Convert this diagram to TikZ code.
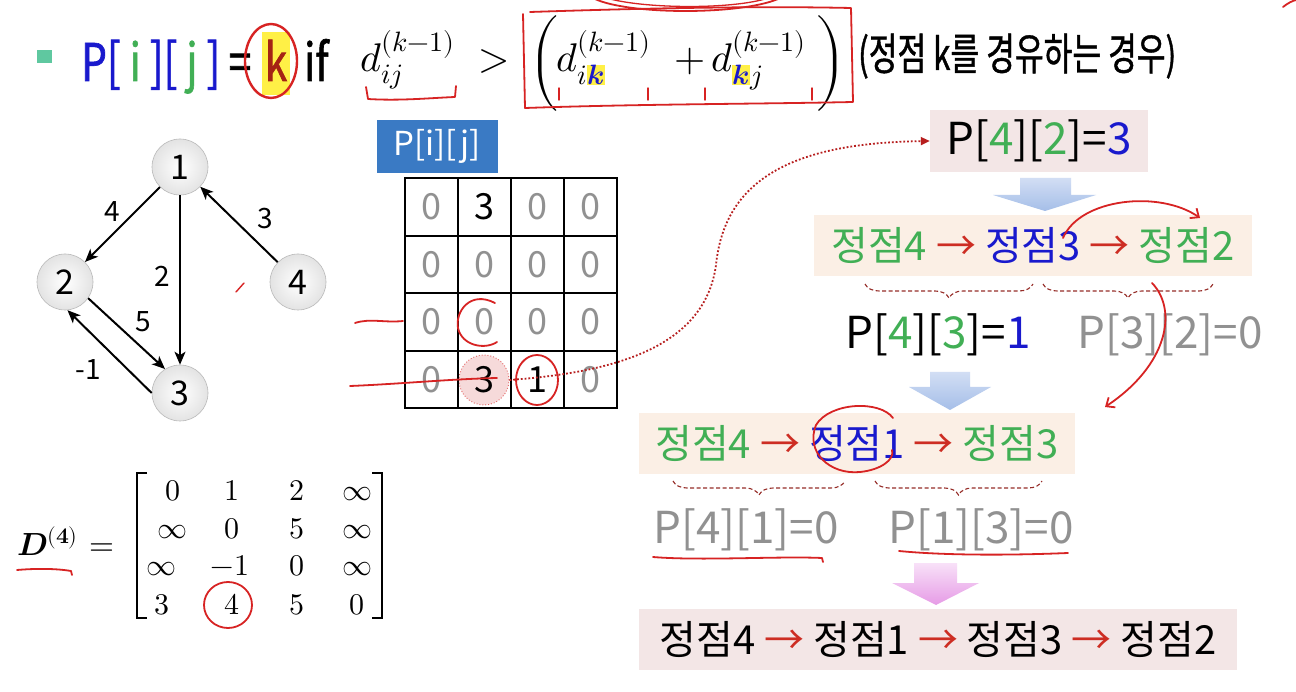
\documentclass[tikz,border=0pt]{standalone}
\usepackage{amsmath}
\usepackage{fontspec}
\usepackage{unicode-math}
\setmathfont{Latin Modern Math}
\usetikzlibrary{arrows.meta,decorations.pathreplacing,calc}
\newfontfamily\kr{Noto Sans CJK KR}
\newfontfamily\krt[FakeStretch=0.78,FakeBold=1.2]{Noto Sans CJK KR}
\newfontfamily\krn[FakeStretch=0.71,FakeBold=0.9]{Noto Sans CJK KR}
\newcommand\fsz[1]{\fontsize{#1}{#1}\selectfont}
\definecolor{kblue}{RGB}{25,25,205}
\definecolor{kgreen}{RGB}{65,175,85}
\definecolor{kgray}{RGB}{145,145,145}
\definecolor{kred}{RGB}{215,35,35}
\definecolor{arrc}{RGB}{205,45,35}
\definecolor{kdark}{RGB}{165,35,20}
\definecolor{hly}{RGB}{255,240,70}
\definecolor{boxa}{RGB}{243,230,230}
\definecolor{boxb}{RGB}{251,239,229}
\definecolor{lblue}{RGB}{58,122,196}
\definecolor{bull}{RGB}{95,200,160}
\definecolor{brc}{RGB}{150,45,40}
\definecolor{pinkc}{RGB}{246,218,218}
\definecolor{ablA}{RGB}{210,222,244}
\definecolor{ablB}{RGB}{165,190,232}
\definecolor{apkA}{RGB}{248,225,248}
\definecolor{apkB}{RGB}{230,155,230}
\newcommand\hlk{{\setlength{\fboxsep}{0.6pt}\colorbox{hly}{\color{kblue}$\scriptstyle\symbfit{k}$}}}
\begin{document}
\begin{tikzpicture}[x=1pt,y=-1pt,
  gnode/.style={circle, draw=gray!55, line width=0.6, inner color=white, outer color=gray!22, minimum size=56, inner sep=0, font=\kr\fsz{34}},
  garr/.style={-{Stealth[length=13,width=11,inset=3.5]}, line width=2},
  glab/.style={font=\kr\fsz{28}, inner sep=0},
  cell/.style={font=\kr\fsz{36}, inner sep=0, text=kgray},
  rbox/.style={inner sep=0, font=\kr\fsz{40}},
  rtxt/.style={inner sep=0, anchor=base, font=\kr\fsz{44}},
  mx/.style={inner sep=0, anchor=base, font=\fsz{30}},
  pen/.style={draw=kred, line width=1.8, line cap=round, line join=round},
  dbrace/.style={draw=brc, dash pattern=on 4pt off 2.5pt, line width=1.1, decorate, decoration={brace, mirror, amplitude=14pt}}
]
\useasboundingbox (0,0) rectangle (1296,692);
\fill[white] (0,0) rectangle (1296,692);

% ---------- title row ----------
\fill[bull] (37,50) rectangle (52,63);
\fill[hly] (262,32) rectangle (290,95);
\node[anchor=base west, inner sep=0, text=kblue, font=\krt\fsz{52}] (tP) at (81,81) {P[ {\color{kgreen}i} ][ {\color{kgreen}j} ]};
\node[anchor=base, inner sep=0, font=\krt\fsz{52}] (teq) at (240,81) {=};
\node[anchor=base, inner sep=0, text=kdark, font=\krt\fsz{52}] (tk) at (276,81) {k};
\node[anchor=base west, inner sep=0, font=\krt\fsz{52}] (tif) at (304,81) {if};
\node[anchor=base west, inner sep=0, font=\fsz{40}] (m1) at (360,72) {$d_{ij}^{(k-1)}$};
\node[anchor=base, inner sep=0, font=\fsz{40}] (m2) at (494,72) {$>$};
\node[inner sep=0, font=\fsz{40}] (m3) at (544,64) {$\bigg($};
\node[anchor=base west, inner sep=0, font=\fsz{40}] (m4) at (556,72) {$d_{i\hlk}^{(k-1)}$};
\node[anchor=base, inner sep=0, font=\fsz{40}] (m5) at (690,72) {$+$};
\node[anchor=base west, inner sep=0, font=\fsz{40}] (m6) at (711,72) {$d_{\hlk j}^{(k-1)}$};
\node[inner sep=0, font=\fsz{40}] (m7) at (831,64) {$\bigg)$};
\node[anchor=base west, inner sep=0, font=\krn\fsz{44}] (tnote) at (858,70) {(정점 k를 경유하는 경우)};

% title annotations
\draw[pen, line width=2.4] (271,61) ellipse [x radius=26, y radius=37];
\draw[pen] (366,87) -- (368,99) .. controls (400,101) and (430,98) .. (455,97) -- (456,86);
\draw[pen] (530,12) .. controls (650,8) and (760,6) .. (851,8) -- (853,102) .. controls (760,104) and (640,104) .. (525,108) -- (523,14);
\draw[pen, line width=1.4] (559,88) -- (559,100) (648,88) -- (648,100) (705,88) -- (705,100) (812,88) -- (812,100);
\draw[pen] (595,-1) .. controls (630,15) and (740,15) .. (778,-1);
\draw[pen, line width=1.3] (610,-1) .. controls (650,9) and (730,9) .. (765,-1);
\draw[pen] (1283,7) .. controls (1288,3) and (1292,1) .. (1296,0);

% ---------- graph ----------
\node[gnode] (n1) at (180,167) {1};
\node[gnode] (n2) at (65,282) {2};
\node[gnode] (n4) at (298,282) {4};
\node[gnode] (n3) at (180,393) {3};
\draw[garr] (n1) -- (n2);
\draw[garr] (n1) -- (n3);
\draw[garr] (n4) -- (n1);
\draw[garr] (n2.-35) -- (n3.122);
\draw[garr] (n3.180) -- (n2.-85);
\node[glab] (l4) at (112,212) {4};
\node[glab] (l2) at (162,276) {2};
\node[glab] (l3) at (265,219) {3};
\node[glab] (l5) at (143,322) {5};
\node[glab] (lm1) at (88,370) {-1};
\draw[pen, line width=1.4] (236,292) -- (244,283);

% ---------- P table ----------
\node[fill=lblue, text=white, minimum width=121, minimum height=53, inner sep=0, font=\kr\fsz{33}] (plab) at (437,146.5) {P[i][j]};
\node[circle, fill=pinkc, draw=kred!70, dotted, line width=0.9, minimum size=50, inner sep=0] (pc) at (484,380) {};
\draw[line width=1.1] (405,178) rectangle (617,408);
\foreach \xx in {458,511,564} \draw[line width=1.1] (\xx,178) -- (\xx,408);
\foreach \yy in {236,293,351} \draw[line width=1.1] (405,\yy) -- (617,\yy);
\foreach \r/\c/\v/\col in {1/1/0/kgray,1/2/3/black,1/3/0/kgray,1/4/0/kgray,
  2/1/0/kgray,2/2/0/kgray,2/3/0/kgray,2/4/0/kgray,
  3/1/0/kgray,3/2/0/kgray,3/3/0/kgray,3/4/0/kgray,
  4/1/0/kgray,4/2/3/black,4/3/1/black,4/4/0/kgray}
  \node[cell, text=\col] (c\r\c) at ({405+(\c-0.5)*53},{178+(\r-0.5)*57.5}) {\v};
% table annotations
\draw[pen] (495,303) .. controls (470,290) and (455,312) .. (458,328) .. controls (462,346) and (485,350) .. (497,342);
\draw[pen] (537,380) ellipse [x radius=21, y radius=25];
\draw[pen] (355,323) .. controls (370,318) and (385,323) .. (403,321);
\draw[pen] (350,386) .. controls (400,384) and (450,379) .. (497,378);

% ---------- D matrix ----------
\node[anchor=base west, inner sep=0, font=\fsz{32}] (dl) at (17,555) {$\symbfit{D}^{(\symbf{4})}$};
\node[anchor=base, inner sep=0, font=\fsz{32}] (deq) at (102,555) {$=$};
\draw[line width=1.1] (147,473) -- (137,473) -- (137,618) -- (147,618);
\draw[line width=1.1] (372,473) -- (382,473) -- (382,618) -- (372,618);
\foreach \r/\c/\xx/\yy/\v in {
  1/1/173/500/0, 1/2/232/500/1, 1/3/297/500/2, 1/4/357/500/\infty,
  2/1/172/538/\infty, 2/2/232/538/0, 2/3/297/538/5, 2/4/357/538/\infty,
  3/1/161/575/\infty, 3/2/230/575/-1, 3/3/297/575/0, 3/4/357/575/\infty,
  4/1/162/614/3, 4/2/232/614/4, 4/3/297/614/5, 4/4/357/614/0}
  \node[mx] (d\r\c) at (\xx,\yy) {$\v$};
\draw[pen] (17,570) .. controls (40,568) and (60,569) .. (71,571) -- (72,575);
\draw[pen] (228,605) ellipse [x radius=24, y radius=23];

% ---------- right: path reconstruction ----------
\node[rbox, fill=boxa, minimum width=218, minimum height=62, font=\kr\fsz{44}] (b1) at (1039,141)
  {P[{\color{kgreen}4}][{\color{kgreen}2}]={\color{kblue}3}};
\shade[top color=ablA, bottom color=ablB] (1020,178) -- (1071,178) -- (1071,195) -- (1096,195) -- (1045,211) -- (993,195) -- (1020,195) -- cycle;
\node[rbox, fill=boxb, minimum width=438, minimum height=61] (b2) at (1033,245.5)
  {{\color{kgreen}정점4} {\color{arrc}→} {\color{kblue}정점3} {\color{arrc}→} {\color{kgreen}정점2}};
\draw[dbrace] (865,284) -- (1033,284);
\draw[dbrace] (1043,284) -- (1213,284);
\node[rtxt] (q1) at (938,349) {P[{\color{kgreen}4}][{\color{kgreen}3}]={\color{kblue}1}};
\node[rtxt, text=kgray] (q2) at (1170,349) {P[3][2]=0};
\shade[top color=ablA, bottom color=ablB] (930,372) -- (970,372) -- (970,387) -- (991,387) -- (950,410) -- (909,387) -- (930,387) -- cycle;
\node[rbox, fill=boxb, minimum width=436, minimum height=61] (b3) at (857,443.5)
  {{\color{kgreen}정점4} {\color{arrc}→} {\color{kblue}정점1} {\color{arrc}→} {\color{kgreen}정점3}};
\draw[dbrace] (673,481) -- (845,481);
\draw[dbrace] (875,481) -- (1042,481);
\node[rtxt, text=kgray] (q3) at (746,543) {P[4][1]=0};
\node[rtxt, text=kgray] (q4) at (981,543) {P[1][3]=0};
\shade[top color=apkA, bottom color=apkB] (914,563) -- (957,563) -- (957,583) -- (979,583) -- (936,605) -- (892,583) -- (914,583) -- cycle;
\node[rbox, fill=boxa, minimum width=598, minimum height=61] (b4) at (938,639.5)
  {정점4 {\color{arrc}→} 정점1 {\color{arrc}→} 정점3 {\color{arrc}→} 정점2};

% right annotations
\draw[draw=kred!85!black, dotted, line width=1.8, -{Triangle[length=9,width=8]}]
  (pc.east) .. controls (620,372) and (705,345) .. (716,265) .. controls (725,175) and (800,143) .. (b1.west);
\draw[pen, -{Straight Barb[length=7,width=12]}] (1063,238) .. controls (1080,198) and (1160,190) .. (1200,218);
\draw[pen, -{Straight Barb[length=7,width=12]}] (1152,283) .. controls (1178,310) and (1168,365) .. (1105,407);
\draw[pen] (893,418) .. controls (880,400) and (830,402) .. (816,425) .. controls (805,452) and (830,475) .. (860,472) .. controls (880,470) and (895,460) .. (892,450);
\draw[pen] (653,557) .. controls (700,561) and (780,556) .. (822,558) -- (823,562);
\draw[pen] (899,551) .. controls (950,556) and (1020,555) .. (1068,553);
\end{tikzpicture}
\end{document}
